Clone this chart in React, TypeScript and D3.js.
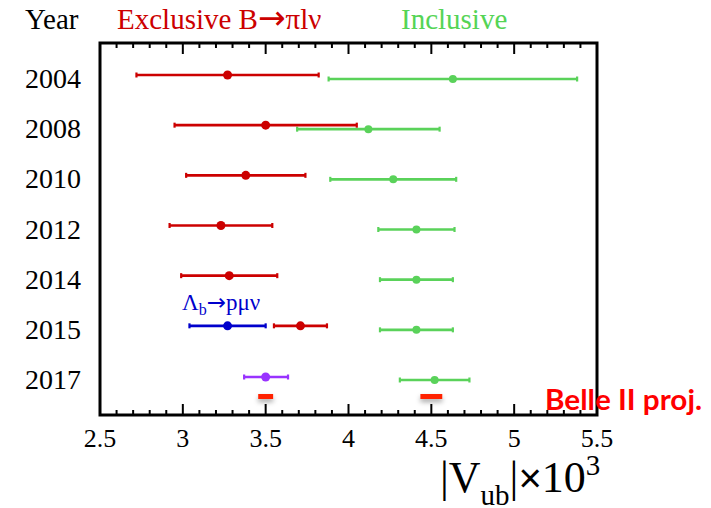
import React from "react";
import * as d3 from "d3";

const years = ["2004", "2008", "2010", "2012", "2014", "2015", "2017"];

// Exclusive B->pi l nu: [year, low, central, high]
const exclusive: [string, number, number, number][] = [
  ["2004", 2.72, 3.27, 3.82],
  ["2008", 2.95, 3.50, 4.05],
  ["2010", 3.02, 3.38, 3.74],
  ["2012", 2.92, 3.23, 3.54],
  ["2014", 2.99, 3.28, 3.57],
  ["2015", 3.55, 3.71, 3.87],
];
// Inclusive
const inclusive: [string, number, number, number][] = [
  ["2004", 3.88, 4.63, 5.38],
  ["2008", 3.69, 4.12, 4.55],
  ["2010", 3.89, 4.27, 4.65],
  ["2012", 4.18, 4.41, 4.64],
  ["2014", 4.19, 4.41, 4.63],
  ["2015", 4.19, 4.41, 4.63],
  ["2017", 4.31, 4.52, 4.73],
];
// Lambda_b -> p mu nu
const lambdaB: [string, number, number, number][] = [["2015", 3.04, 3.27, 3.50]];
// Combined 2017 (purple)
const combined: [string, number, number, number][] = [["2017", 3.37, 3.50, 3.635]];
// Belle II projections: [centre, half-width]
const belle2: [number, number][] = [
  [3.5, 0.045],
  [4.5, 0.066],
];

const xTicksMajor = [2.5, 3, 3.5, 4, 4.5, 5, 5.5];

const W = 711;
const H = 508;
const L = 100, R = 597, T = 43, B = 415;

export default function App() {
  const x = d3.scaleLinear().domain([2.5, 5.5]).range([L, R]);
  const y = d3.scalePoint<string>().domain(years).range([79, 380]);
  const minor = d3.range(25, 56).map((v) => v / 10);

  const serif = "'Liberation Serif', 'DejaVu Serif', serif";
  const arrowFont = "'DejaVu Sans', sans-serif";

  const errBar = (
    d: [string, number, number, number],
    color: string,
    dy: number,
    r: number,
    key: string
  ) => {
    const yy = (y(d[0]) as number) + dy;
    return (
      <g key={key}>
        <line x1={x(d[1])} x2={x(d[3])} y1={yy} y2={yy} stroke={color} strokeWidth={2.6} />
        <line x1={x(d[1])} x2={x(d[1])} y1={yy - 2.5} y2={yy + 2.5} stroke={color} strokeWidth={2.2} />
        <line x1={x(d[3])} x2={x(d[3])} y1={yy - 2.5} y2={yy + 2.5} stroke={color} strokeWidth={2.2} />
        <circle cx={x(d[2])} cy={yy} r={r} fill={color} />
      </g>
    );
  };

  const y2017 = y("2017") as number;

  return (
    <svg
      width={W}
      height={H}
      style={{ position: "absolute", left: 0, top: 0, background: "#fff" }}
    >
      <defs>
        <filter id="shadow" x="-50%" y="-100%" width="200%" height="400%">
          <feDropShadow dx="0" dy="3" stdDeviation="2.5" floodColor="#000" floodOpacity="0.35" />
        </filter>
      </defs>
      <rect width={W} height={H} fill="#fff" />

      {/* header */}
      <text x={25} y={29} fontFamily={serif} fontSize={29} fill="#000">Year</text>
      <text x={117} y={29} fontFamily={serif} fontSize={29} fill="#cc0000">
        Exclusive B<tspan fontFamily={arrowFont} fontSize={33}>→</tspan>πlν
      </text>
      <text x={401} y={29} fontFamily={serif} fontSize={29} fill="#55d455">Inclusive</text>

      {/* year labels */}
      {years.map((yr) => (
        <text key={yr} x={25} y={(y(yr) as number) + 9} fontFamily={serif} fontSize={28} fill="#000">
          {yr}
        </text>
      ))}

      {/* ticks */}
      {minor.map((v, i) => {
        const isMajor = Math.abs(v * 2 - Math.round(v * 2)) < 1e-6;
        const len = isMajor ? 11 : 5;
        return (
          <g key={i}>
            <line x1={x(v)} x2={x(v)} y1={T} y2={T + len} stroke="#000" strokeWidth={2} />
            <line x1={x(v)} x2={x(v)} y1={B} y2={B - len} stroke="#000" strokeWidth={2} />
          </g>
        );
      })}

      {/* frame */}
      <rect x={L} y={T} width={R - L} height={B - T} fill="none" stroke="#000" strokeWidth={3} />

      {/* tick labels */}
      {xTicksMajor.map((v) => (
        <text
          key={v}
          x={x(v)}
          y={447}
          textAnchor="middle"
          fontFamily={serif}
          fontSize={26}
          fill="#000"
        >
          {String(v)}
        </text>
      ))}

      {/* axis title */}
      <text x={440} y={492} fontFamily={serif} fontSize={44} fill="#000">
        |V<tspan fontSize={29} dy={13}>ub</tspan>
        <tspan dy={-13}>|</tspan>
        <tspan fontFamily="'Liberation Sans', sans-serif" fontSize={40}>×</tspan>
        <tspan>10</tspan>
        <tspan fontSize={29} dy={-17}>3</tspan>
      </text>

      {/* data */}
      {inclusive.map((d, i) => errBar(d, "#5ad25a", 0, 4, "in" + i))}
      {exclusive.map((d, i) => errBar(d, "#cc0000", -4, 4.5, "ex" + i))}
      {lambdaB.map((d, i) => errBar(d, "#0000cc", -4, 4.5, "lb" + i))}
      {combined.map((d, i) => errBar(d, "#9933ff", -3, 4.5, "cb" + i))}

      <text x={182} y={310} fontFamily={serif} fontSize={23} fill="#0000cc">
        Λ<tspan fontSize={16} dy={5}>b</tspan>
        <tspan dy={-5} fontFamily={arrowFont} fontSize={23}>→</tspan>
        <tspan>pμν</tspan>
      </text>

      {/* Belle II projections */}
      {belle2.map(([c, h], i) => (
        <rect
          key={i}
          x={x(c - h)}
          y={y2017 + 14}
          width={x(c + h) - x(c - h)}
          height={5}
          fill="#ff2200"
          filter="url(#shadow)"
        />
      ))}
      <text
        x={545}
        y={410}
        fontFamily="Lato, 'Open Sans', sans-serif"
        fontWeight="bold"
        fontSize={29}
        fill="#ff0000"
        textLength={157}
        lengthAdjust="spacingAndGlyphs"
      >
        Belle II proj.
      </text>
    </svg>
  );
}
